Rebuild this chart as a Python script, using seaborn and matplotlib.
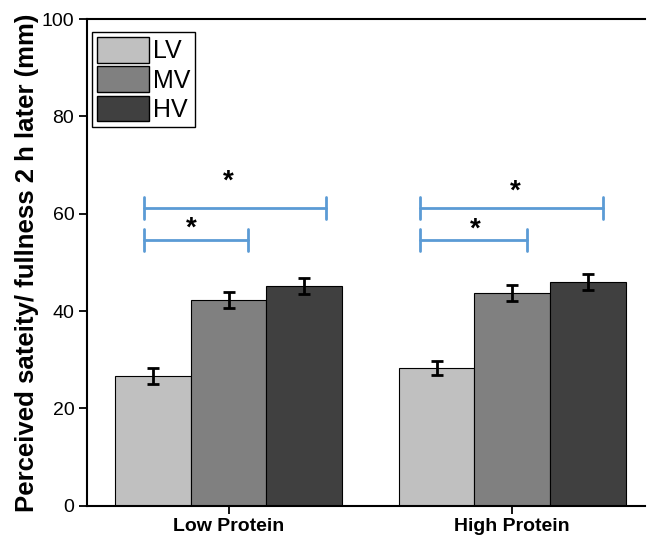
import pandas as pd
import numpy as np
import matplotlib.pyplot as plt
import seaborn as sns
from matplotlib.patches import Patch

sns.set_theme(style="white")
plt.rcParams["font.family"] = ["Liberation Sans", "DejaVu Sans"]
plt.rcParams["text.color"] = "black"
plt.rcParams["axes.labelcolor"] = "black"
plt.rcParams["xtick.color"] = "black"
plt.rcParams["ytick.color"] = "black"

# data
groups = ["Low Protein", "High Protein"]
levels = ["LV", "MV", "HV"]
means_low = [26.7, 42.3, 45.2]
means_high = [28.3, 43.7, 46.0]
err_low = [1.6, 1.6, 1.6]
err_high = [1.5, 1.6, 1.6]
colors = ["#c0c0c0", "#808080", "#404040"]

# significance brackets: (group, x_start, x_end, y, star_x, star_y)
brackets = [(0, -0.30, 0.07, 54.6, -0.13, 57.0),
            (0, -0.30, 0.343, 61.2, 0.00, 66.6),
            (1, -0.325, 0.053, 54.6, -0.13, 56.8),
            (1, -0.325, 0.32, 61.2, 0.01, 64.6)]

df = pd.DataFrame({
    "group": np.repeat(groups, 3),
    "level": levels * 2,
    "value": means_low + means_high,
    "err": err_low + err_high,
})

fig = plt.figure(figsize=(6.48, 5.45), dpi=100)
ax = fig.add_axes([0.134, 0.072, 0.862, 0.893])
sns.barplot(data=df, x="group", y="value", hue="level", order=groups,
            hue_order=levels, palette=colors, edgecolor="black",
            linewidth=0.8, errorbar=None, ax=ax, legend=False, width=0.8)

# error bars at bar centers
for cont, lev in zip(ax.containers, levels):
    sub = df[df.level == lev].set_index("group").loc[groups]
    xs = [p.get_x() + p.get_width() / 2 for p in cont.patches]
    ax.errorbar(xs, sub["value"], yerr=sub["err"], fmt="none", ecolor="black",
                elinewidth=2, capsize=4.5, capthick=2, zorder=5)

# significance brackets
for g, x0, x1, y, sx, sy in brackets:
    ax.plot([g + x0, g + x1], [y, y], color="#5b9bd5", lw=2)
    for xx in (g + x0, g + x1):
        ax.plot([xx, xx], [y - 2.2, y + 2.2], color="#5b9bd5", lw=2)
    ax.text(g + sx, sy, "*", ha="center", va="center",
            fontsize=20, fontweight="bold", color="black")

ax.set_xlim(-0.5, 1.47)
ax.set_ylim(0, 100)
ax.set_yticks([0, 20, 40, 60, 80, 100])
ax.set_xlabel("")
ax.set_ylabel("Perceived sateity/ fullness 2 h later (mm)", fontsize=18.5,
              fontweight="bold", labelpad=2)
ax.tick_params(axis="y", labelsize=14, length=6, width=1.3, left=True,
               direction="out", pad=3)
ax.tick_params(axis="x", labelsize=14, length=6, width=1.3, bottom=True,
               direction="out", pad=3)
for lab in ax.get_xticklabels():
    lab.set_fontweight("bold")
for s in ["left", "bottom", "top"]:
    ax.spines[s].set_color("black")
    ax.spines[s].set_linewidth(1.5)
ax.spines["right"].set_visible(False)

handles = [Patch(facecolor=c, edgecolor="black", label=l) for c, l in zip(colors, levels)]
ax.legend(handles=handles, loc="upper left", bbox_to_anchor=(0.009, 0.973),
          fontsize=18, handlelength=2.1, handleheight=1.2, handletextpad=0.15,
          labelspacing=0.12, borderpad=0.2, borderaxespad=0.0, frameon=True,
          fancybox=False, edgecolor="black", framealpha=1)

fig.savefig("out.png", dpi=100)
